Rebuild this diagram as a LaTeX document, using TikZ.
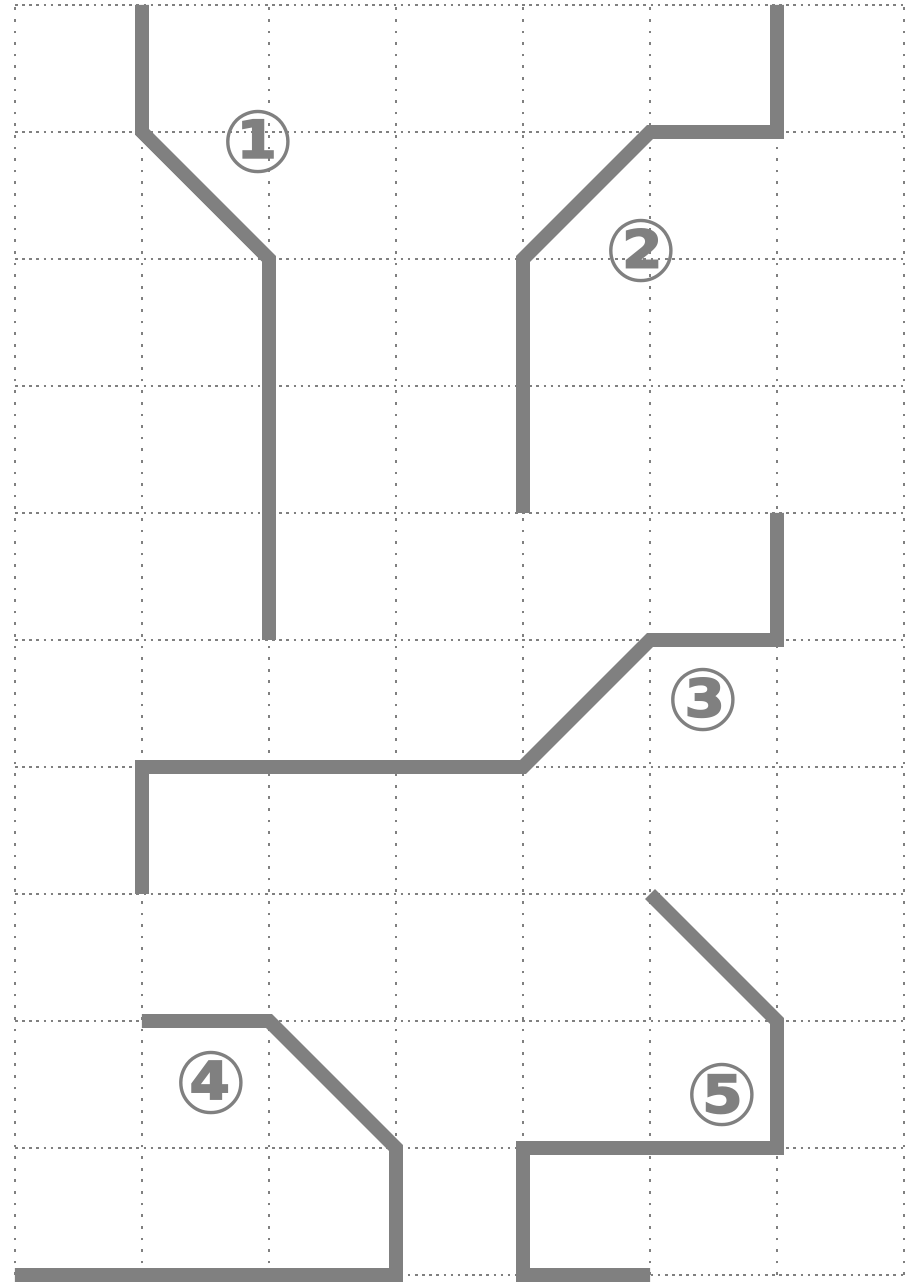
\documentclass[tikz,border=0pt]{standalone}
\usepackage{fontspec}
\newfontfamily\circfont{DejaVu Sans}[Scale=1]
\begin{document}
\begin{tikzpicture}[scale=1,
  pipe/.style={line width=3.1pt, draw=gray},
  num/.style={text=gray, font=\circfont\bfseries\fontsize{19.5}{19.5}\selectfont, inner sep=0pt}]
  \useasboundingbox (-0.118,-0.055) rectangle (7.134,10.039);
  \foreach \x in {0,...,7} \draw[gray, dotted, line width=0.6pt] (\x,0) -- (\x,10);
  \foreach \y in {0,...,10} \draw[gray, densely dotted, line width=0.6pt] (0,\y) -- (7,\y);
  \draw[pipe] (1,10) -- (1,9) -- (2,8) -- (2,5);
  \draw[pipe] (6,10) -- (6,9) -- (5,9) -- (4,8) -- (4,6);
  \draw[pipe] (6,6) -- (6,5) -- (5,5) -- (4,4) -- (1,4) -- (1,3);
  \draw[pipe] (1,2) -- (2,2) -- (3,1) -- (3,0) -- (0,0);
  \draw[pipe] (5,3) -- (6,2) -- (6,1) -- (4,1) -- (4,0) -- (5,0);
  \node[num] (lbl1) at (1.92,8.92) {①};
  \node[num] (lbl2) at (4.93,8.06) {②};
  \node[num] (lbl3) at (5.42,4.53) {③};
  \node[num] (lbl4) at (1.55,1.51) {④};
  \node[num] (lbl5) at (5.57,1.42) {⑤};
\end{tikzpicture}
\end{document}
